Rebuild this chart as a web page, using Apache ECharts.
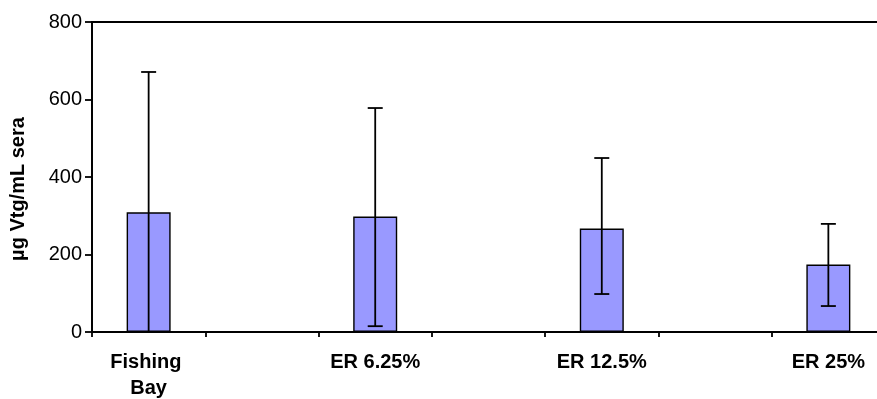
<!DOCTYPE html>
<html>
<head>
<meta charset="utf-8">
<script src="https://cdn.jsdelivr.net/npm/echarts@6/dist/echarts.min.js"></script>
<style>
  html, body { margin: 0; padding: 0; background: #fff; }
  #chart { width: 877px; height: 399px; }
</style>
</head>
<body>
<div id="chart"></div>
<script>
// Site groups, each followed by an empty slot on the category axis
const categories = ['Fishing Bay', 'ER 6.25%', 'ER 12.5%', 'ER 25%'];
// Mean vitellogenin concentration (µg/mL sera)
const means = [309, 298, 267, 174];
// Error bar ends
const upper = [671, 578, 449, 279];
const lower = [-53, 15, 98, 67];
const yTicks = { min: 0, max: 800, interval: 200 };

// Interleave blank bands between the groups
const axisNames = [];
const slot = [];
categories.forEach((c, i) => {
  slot.push(axisNames.length);
  axisNames.push(c);
  if (i < categories.length - 1) axisNames.push('');
});

const barData = axisNames.map(() => null);
means.forEach((v, i) => { barData[slot[i]] = v; });
const errData = means.map((v, i) => [slot[i], lower[i], upper[i]]);

const chart = echarts.init(document.getElementById('chart'), null, { renderer: 'canvas' });

chart.setOption({
  animation: false,
  grid: {
    left: 92, top: 22, right: -8, bottom: 67,
    outerBoundsMode: 'none',
    containLabel: false,
    show: true, borderColor: '#000', borderWidth: 1.8, backgroundColor: 'transparent'
  },
  xAxis: {
    type: 'category',
    data: axisNames,
    axisLine: { lineStyle: { color: '#000', width: 1.8 } },
    axisTick: { show: true, length: 5, lineStyle: { color: '#000', width: 1.8 } },
    axisLabel: {
      color: '#000', fontFamily: 'Liberation Sans, Arial, sans-serif',
      fontWeight: 'bold', fontSize: 20, margin: 17, lineHeight: 26,
      width: 100, overflow: 'break', interval: 0
    },
    splitLine: { show: false }
  },
  yAxis: {
    type: 'value',
    min: yTicks.min, max: yTicks.max, interval: yTicks.interval,
    axisLine: { show: true, lineStyle: { color: '#000', width: 1.8 } },
    axisTick: { show: true, length: 7, lineStyle: { color: '#000', width: 1.8 } },
    axisLabel: {
      color: '#000', fontFamily: 'Liberation Sans, Arial, sans-serif',
      fontSize: 20, margin: 10
    },
    splitLine: { show: false }
  },
  graphic: [{
    type: 'text',
    x: 18, y: 189,
    rotation: Math.PI / 2,
    style: {
      text: 'µg Vtg/mL sera',
      fill: '#000',
      font: 'bold 20px "Liberation Sans", Arial, sans-serif',
      align: 'center',
      verticalAlign: 'middle'
    }
  }],
  series: [
    {
      type: 'bar',
      data: barData,
      barWidth: 44,
      itemStyle: { color: '#9999FF', borderColor: '#000', borderWidth: 1.4 }
    },
    {
      type: 'custom',
      data: errData,
      encode: { x: 0, y: [1, 2] },
      z: 5,
      renderItem: function (params, api) {
        const x = api.value(0);
        const lo = api.value(1);
        const hi = api.value(2);
        const top = api.coord([x, hi]);
        const base = api.coord([x, yTicks.min]);
        const clipped = lo < yTicks.min;
        const bot = clipped ? base : api.coord([x, lo]);
        const half = 7.5;
        const style = { stroke: '#000', lineWidth: 1.8 };
        const children = [
          { type: 'line', shape: { x1: top[0], y1: top[1], x2: bot[0], y2: bot[1] }, style },
          { type: 'line', shape: { x1: top[0] - half, y1: top[1], x2: top[0] + half, y2: top[1] }, style }
        ];
        if (!clipped) {
          children.push({ type: 'line', shape: { x1: bot[0] - half, y1: bot[1], x2: bot[0] + half, y2: bot[1] }, style });
        }
        return { type: 'group', children };
      }
    }
  ]
});
</script>
</body>
</html>
